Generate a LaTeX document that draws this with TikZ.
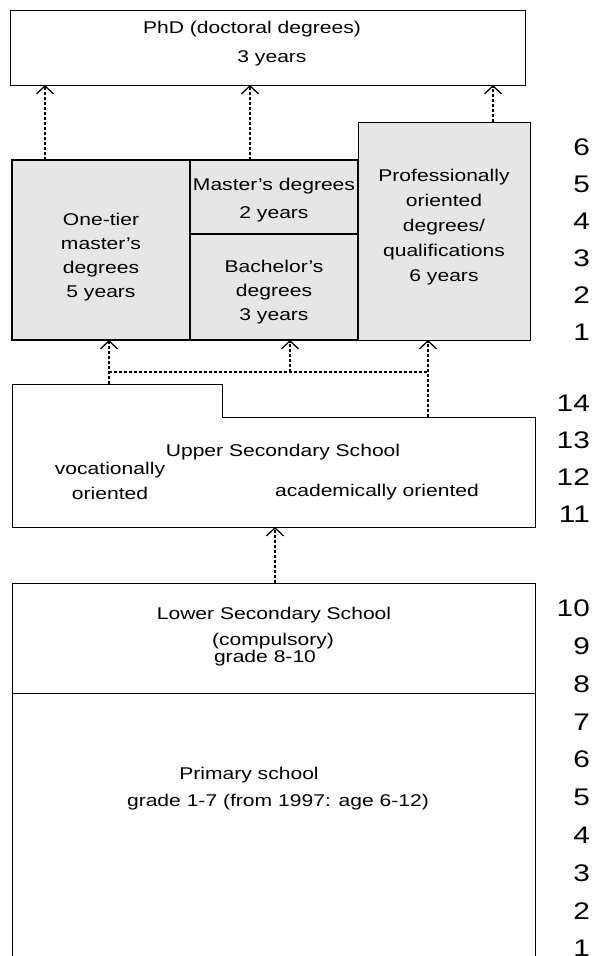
\documentclass[tikz,border=0pt]{standalone}
\usepackage{fontspec}
\setmainfont{Liberation Sans}[FakeStretch=1.24]
\usetikzlibrary{arrows.meta,positioning,calc}
\definecolor{BoxGray}{HTML}{E6E6E6}

\begin{document}
\begin{tikzpicture}[x=1pt,y=-1pt,
    thinbox/.style={draw,line width=.9pt,inner sep=0pt,outer sep=0pt,anchor=north west},
    graybox/.style={thinbox,fill=BoxGray},
    thickbox/.style={graybox,line width=1.8pt},
    txt/.style={font=\fontsize{17}{24}\selectfont,align=center,inner sep=0pt},
    yrs/.style={font=\fontsize{24}{24}\selectfont,anchor=base east,inner sep=0pt},
    dotline/.style={line width=1.4pt,dash pattern=on 3pt off 2pt},
    dotarr/.style={dotline,-{Straight Barb[length=8pt,width=17pt,line width=1.3pt]}}]
  \useasboundingbox (0,0) rectangle (595,956);
  % higher education
  \node[thinbox,minimum width=515pt,minimum height=75pt] (phd) at (10,10) {};
  \node[graybox,minimum width=172pt,minimum height=218pt] (prof) at (358,122) {};
  \node[thickbox,minimum width=178pt,minimum height=180pt] (onetier) at (12,160) {};
  \node[thickbox,minimum width=168pt,minimum height=74pt] (master) at (190,160) {};
  \node[thickbox,minimum width=168pt,minimum height=106pt] (bach) at (190,234) {};
  % upper secondary
  \coordinate (usNW) at (12,384);
  \coordinate (usStep) at (222,384);
  \coordinate (usNE) at (535,417);
  \coordinate (usSE) at (535,527);
  \coordinate (usSW) at (12,527);
  \draw[line width=.9pt] (usNW) -- (usStep) -- (usStep |- usNE) -- (usNE) -- (usSE) -- (usSW) -- cycle;
  % compulsory school
  \node[thinbox,minimum width=523pt,minimum height=110pt] (lowsec) at (12,583) {};
  \node[thinbox,minimum width=523pt,minimum height=270pt] (prim) at (12,693) {};

  % texts
  \node[txt,anchor=base] (phdA) at (252,33) {PhD (doctoral degrees)};
  \node[txt,anchor=base] (phdB) at (272,62) {3 years};
  \node[txt] (onetierT) at (101,256.6) {One-tier\\master’s\\degrees\\5 years};
  \node[txt] (masterT) at (274,199.6) {Master’s degrees\\[4pt]2 years};
  \node[txt] (bachT) at (274,291.6) {Bachelor’s\\degrees\\3 years};
  \node[txt,font=\fontsize{17}{25}\selectfont] (profT) at (444,227) {Professionally\\oriented\\degrees/\\qualifications\\6 years};
  \node[txt,anchor=base] (usT) at (283,456) {Upper Secondary School};
  \node[txt,font=\fontsize{17}{25}\selectfont] (vocT) at (110,481.3) {vocationally\\oriented};
  \node[txt,anchor=base] (acadT) at (377,496) {academically oriented};
  \node[txt,anchor=base] (lowT) at (274,619) {Lower Secondary School};
  \node[txt,anchor=base] (compT) at (273,645) {(compulsory)};
  \node[txt,anchor=base] (gradeT) at (265,662) {grade 8-10};
  \node[txt,anchor=base] (primT) at (249,779) {Primary school};
  \node[txt,anchor=base] (primG) at (278,806) {grade 1-7 (from 1997: age 6-12)};

  % year columns
  \foreach \n [count=\i] in {6,5,4,3,2,1}
    \node[yrs] (hy\n) at (590,155.6+37*\i-37) {\n};
  \foreach \n [count=\i] in {14,13,12,11}
    \node[yrs] (uy\n) at (590,411.6+37*\i-37) {\n};
  \foreach \n [count=\i] in {10,9,8,7,6,5,4,3,2,1}
    \node[yrs] (cy\n) at (590,616.6+37.8*\i-37.8) {\n};

  % paths
  \coordinate (ax1) at (45,0);
  \coordinate (ax2) at (250,0);
  \coordinate (ax3) at (493,0);
  \draw[dotarr] (onetier.north -| ax1) -- (phd.south -| ax1);
  \draw[dotarr] (master.north -| ax2) -- (phd.south -| ax2);
  \draw[dotarr] (prof.north -| ax3) -- (phd.south -| ax3);

  \coordinate (usA) at (109,384);
  \coordinate (usC) at (428,417);
  \coordinate (ax5) at (290,0);
  \coordinate (jrow) at (0,372);
  \draw[dotline] (usA |- jrow) -- (usC |- jrow);
  \draw[dotarr] (usA) -- (onetier.south -| usA);
  \draw[dotarr] (ax5 |- jrow) -- (bach.south -| ax5);
  \draw[dotarr] (usC) -- (prof.south -| usC);

  \coordinate (usS) at (275,527);
  \draw[dotarr] (lowsec.north -| usS) -- (usS);
\end{tikzpicture}
\end{document}
